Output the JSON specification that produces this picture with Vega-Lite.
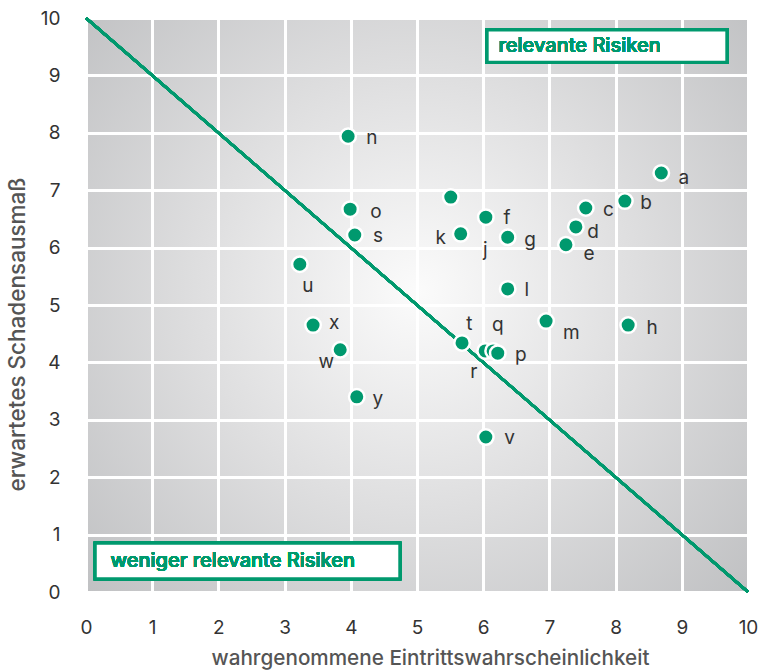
{
  "$schema": "https://vega.github.io/schema/vega-lite/v6.json",
  "width": 662,
  "height": 574,
  "autosize": {"type": "none"},
  "padding": {"left": 86, "top": 18, "right": 17, "bottom": 80},
  "background": "white",
  "config": {
    "font": "Inter",
    "view": {
      "stroke": null,
      "fill": {
        "gradient": "radial",
        "x1": 0.5, "y1": 0.48, "r1": 0,
        "x2": 0.5, "y2": 0.48, "r2": 0.72,
        "stops": [
          {"offset": 0, "color": "#fbfbfb"},
          {"offset": 0.45, "color": "#dfdfe0"},
          {"offset": 1, "color": "#bcbdbf"}
        ]
      }
    },
    "axis": {
      "grid": true,
      "gridColor": "white",
      "gridWidth": 3,
      "gridOpacity": 1,
      "domain": false,
      "ticks": true,
      "tickColor": "white",
      "tickWidth": 3,
      "tickSize": 6,
      "labelFont": "Inter",
      "labelFontSize": 19,
      "labelColor": "#333333",
      "labelPadding": 20,
      "labelFlush": false,
      "format": "d",
      "titleFont": "Inter",
      "titleColor": "#555555",
      "titleFontWeight": 500
    }
  },
  "data": {
    "values": [
      {"label": "a", "x": 8.69, "y": 7.30, "lx": 9.03, "ly": 7.21},
      {"label": "b", "x": 8.14, "y": 6.81, "lx": 8.46, "ly": 6.78},
      {"label": "c", "x": 7.55, "y": 6.69, "lx": 7.89, "ly": 6.66},
      {"label": "d", "x": 7.40, "y": 6.36, "lx": 7.66, "ly": 6.27},
      {"label": "e", "x": 7.25, "y": 6.05, "lx": 7.60, "ly": 5.89},
      {"label": "f", "x": 6.04, "y": 6.53, "lx": 6.36, "ly": 6.52},
      {"label": "g", "x": 6.37, "y": 6.18, "lx": 6.71, "ly": 6.13},
      {"label": "h", "x": 8.19, "y": 4.65, "lx": 8.55, "ly": 4.60},
      {"label": "j", "x": 5.51, "y": 6.88, "lx": 6.03, "ly": 5.96},
      {"label": "k", "x": 5.66, "y": 6.24, "lx": 5.36, "ly": 6.17},
      {"label": "l", "x": 6.37, "y": 5.28, "lx": 6.66, "ly": 5.26},
      {"label": "m", "x": 6.95, "y": 4.72, "lx": 7.33, "ly": 4.51},
      {"label": "n", "x": 3.96, "y": 7.94, "lx": 4.32, "ly": 7.91},
      {"label": "o", "x": 3.99, "y": 6.67, "lx": 4.38, "ly": 6.62},
      {"label": "s", "x": 4.06, "y": 6.22, "lx": 4.41, "ly": 6.20},
      {"label": "u", "x": 3.23, "y": 5.71, "lx": 3.35, "ly": 5.33},
      {"label": "x", "x": 3.43, "y": 4.65, "lx": 3.75, "ly": 4.69},
      {"label": "w", "x": 3.84, "y": 4.22, "lx": 3.63, "ly": 4.01},
      {"label": "y", "x": 4.09, "y": 3.40, "lx": 4.41, "ly": 3.36},
      {"label": "t", "x": 5.68, "y": 4.34, "lx": 5.79, "ly": 4.67},
      {"label": "r", "x": 6.03, "y": 4.20, "lx": 5.86, "ly": 3.83},
      {"label": "q", "x": 6.15, "y": 4.20, "lx": 6.22, "ly": 4.65},
      {"label": "p", "x": 6.22, "y": 4.16, "lx": 6.57, "ly": 4.13},
      {"label": "v", "x": 6.04, "y": 2.70, "lx": 6.40, "ly": 2.68}
    ]
  },
  "layer": [
    {
      "mark": {"type": "rule", "color": "#00996e", "strokeWidth": 2.5},
      "encoding": {
        "x": {"datum": 0, "type": "quantitative",
          "scale": {"domain": [0, 10], "nice": false},
          "axis": {"values": [0,1,2,3,4,5,6,7,8,9,10], "title": "wahrgenommene Eintrittswahrscheinlichkeit", "titlePadding": 11, "titleX": 344, "titleFontSize": 20.7}},
        "y": {"datum": 10, "type": "quantitative",
          "scale": {"domain": [0, 10], "nice": false},
          "axis": {"values": [0,1,2,3,4,5,6,7,8,9,10], "title": "erwartetes Schadensausmaß", "titlePadding": 11, "titleY": 316, "titleFontSize": 22.5}},
        "x2": {"datum": 10},
        "y2": {"datum": 0}
      }
    },
    {
      "mark": {"type": "rect", "fill": "white", "stroke": "#00996e", "strokeWidth": 3},
      "encoding": {
        "x": {"datum": 6.06, "type": "quantitative"},
        "x2": {"datum": 9.68},
        "y": {"datum": 9.79, "type": "quantitative"},
        "y2": {"datum": 9.23}
      }
    },
    {
      "mark": {"type": "text", "text": "relevante Risiken", "align": "left", "baseline": "middle", "color": "#00996e", "font": "Inter", "fontSize": 20, "fontWeight": 500},
      "encoding": {
        "x": {"datum": 6.23, "type": "quantitative"},
        "y": {"datum": 9.51, "type": "quantitative"}
      }
    },
    {
      "mark": {"type": "rect", "fill": "white", "stroke": "#00996e", "strokeWidth": 3},
      "encoding": {
        "x": {"datum": 0.14, "type": "quantitative"},
        "x2": {"datum": 4.74},
        "y": {"datum": 0.85, "type": "quantitative"},
        "y2": {"datum": 0.23}
      }
    },
    {
      "mark": {"type": "text", "text": "weniger relevante Risiken", "align": "left", "baseline": "middle", "color": "#00996e", "font": "Inter", "fontSize": 20, "fontWeight": 500},
      "encoding": {
        "x": {"datum": 0.37, "type": "quantitative"},
        "y": {"datum": 0.54, "type": "quantitative"}
      }
    },
    {
      "mark": {"type": "circle", "size": 240, "fill": "#00996e", "opacity": 1, "stroke": "white", "strokeWidth": 2.5},
      "encoding": {
        "x": {"field": "x", "type": "quantitative"},
        "y": {"field": "y", "type": "quantitative"}
      }
    },
    {
      "mark": {"type": "text", "font": "Inter", "fontSize": 19, "color": "#333333", "align": "center", "baseline": "middle"},
      "encoding": {
        "x": {"field": "lx", "type": "quantitative"},
        "y": {"field": "ly", "type": "quantitative"},
        "text": {"field": "label"}
      }
    }
  ]
}
